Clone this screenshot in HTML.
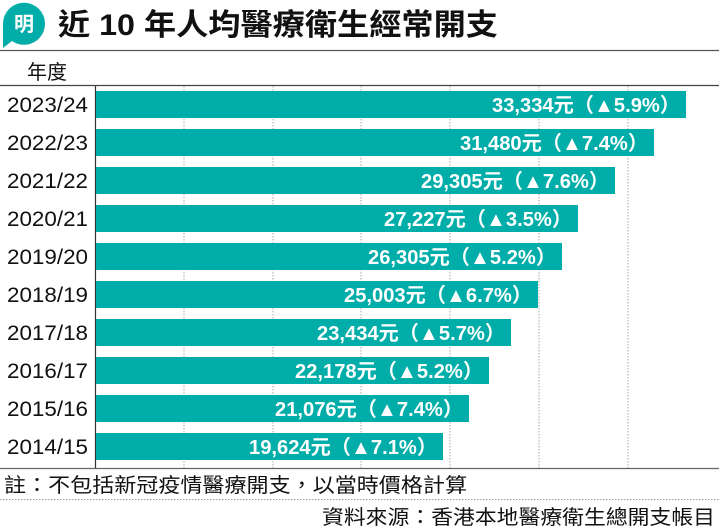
<!DOCTYPE html>
<html><head><meta charset="utf-8"><style>
html,body{margin:0;padding:0;background:#fff}
svg{display:block}
text{font-family:"Liberation Sans","Noto Sans CJK TC",sans-serif}
</style></head><body>
<svg width="719" height="528" xmlns="http://www.w3.org/2000/svg">
<rect width="719" height="528" fill="#fff"/>
<path d="M3,24 a21,21 0 1 1 9,17 l-9,7 z" fill="#00ADA8"/>
<text x="24" y="31" font-size="20" font-weight="bold" fill="#fff" text-anchor="middle" font-family="Noto Serif CJK SC, serif">明</text>
<text x="58" y="35" font-size="30" font-weight="bold" fill="#111" textLength="440" lengthAdjust="spacingAndGlyphs">近 10 年人均醫療衛生經常開支</text>
<line x1="0" y1="50.5" x2="719" y2="50.5" stroke="#555" stroke-width="1.2"/>
<text x="27" y="79" font-size="20" fill="#111">年度</text>
<line x1="0" y1="85.5" x2="719" y2="85.5" stroke="#444" stroke-width="1.2"/>
<g stroke="#aaa" stroke-width="1" stroke-dasharray="1.5,1.5">
<line x1="184" y1="86" x2="184" y2="468"/>
<line x1="273" y1="86" x2="273" y2="468"/>
<line x1="361" y1="86" x2="361" y2="468"/>
<line x1="450" y1="86" x2="450" y2="468"/>
<line x1="539" y1="86" x2="539" y2="468"/>
<line x1="628" y1="86" x2="628" y2="468"/>
</g>
<line x1="95.5" y1="86" x2="95.5" y2="468" stroke="#333" stroke-width="1.2"/>
<g fill="#00ADA8">
<rect x="96" y="91" width="590" height="27"/>
<rect x="96" y="129" width="558" height="27"/>
<rect x="96" y="167" width="519" height="27"/>
<rect x="96" y="205" width="482" height="27"/>
<rect x="96" y="243" width="466" height="27"/>
<rect x="96" y="281" width="442" height="27"/>
<rect x="96" y="319" width="415" height="27"/>
<rect x="96" y="357" width="393" height="27"/>
<rect x="96" y="395" width="373" height="27"/>
<rect x="96" y="433" width="347" height="27"/>
</g>
<g font-size="21" fill="#111">
<text x="7" y="112" textLength="81" lengthAdjust="spacingAndGlyphs">2023/24</text>
<text x="7" y="150" textLength="81" lengthAdjust="spacingAndGlyphs">2022/23</text>
<text x="7" y="188" textLength="81" lengthAdjust="spacingAndGlyphs">2021/22</text>
<text x="7" y="226" textLength="81" lengthAdjust="spacingAndGlyphs">2020/21</text>
<text x="7" y="264" textLength="81" lengthAdjust="spacingAndGlyphs">2019/20</text>
<text x="7" y="302" textLength="81" lengthAdjust="spacingAndGlyphs">2018/19</text>
<text x="7" y="340" textLength="81" lengthAdjust="spacingAndGlyphs">2017/18</text>
<text x="7" y="378" textLength="81" lengthAdjust="spacingAndGlyphs">2016/17</text>
<text x="7" y="416" textLength="81" lengthAdjust="spacingAndGlyphs">2015/16</text>
<text x="7" y="454" textLength="81" lengthAdjust="spacingAndGlyphs">2014/15</text>
</g>
<g font-size="20" font-weight="bold" fill="#fff">
<text x="492" y="112" textLength="188" lengthAdjust="spacingAndGlyphs">33,334元（▲5.9%）</text>
<text x="460" y="150" textLength="188" lengthAdjust="spacingAndGlyphs">31,480元（▲7.4%）</text>
<text x="421" y="188" textLength="188" lengthAdjust="spacingAndGlyphs">29,305元（▲7.6%）</text>
<text x="384" y="226" textLength="188" lengthAdjust="spacingAndGlyphs">27,227元（▲3.5%）</text>
<text x="368" y="264" textLength="188" lengthAdjust="spacingAndGlyphs">26,305元（▲5.2%）</text>
<text x="344" y="302" textLength="188" lengthAdjust="spacingAndGlyphs">25,003元（▲6.7%）</text>
<text x="317" y="340" textLength="188" lengthAdjust="spacingAndGlyphs">23,434元（▲5.7%）</text>
<text x="295" y="378" textLength="188" lengthAdjust="spacingAndGlyphs">22,178元（▲5.2%）</text>
<text x="275" y="416" textLength="188" lengthAdjust="spacingAndGlyphs">21,076元（▲7.4%）</text>
<text x="249" y="454" textLength="188" lengthAdjust="spacingAndGlyphs">19,624元（▲7.1%）</text>
</g>
<line x1="0" y1="468.5" x2="719" y2="468.5" stroke="#666" stroke-width="1.2"/>
<text x="4" y="492" font-size="20" fill="#111" textLength="463" lengthAdjust="spacingAndGlyphs">註：不包括新冠疫情醫療開支，以當時價格計算</text>
<line x1="0" y1="499.5" x2="719" y2="499.5" stroke="#999" stroke-width="1" stroke-dasharray="1.5,1.5"/>
<text x="322" y="524" font-size="20" fill="#111" textLength="393" lengthAdjust="spacingAndGlyphs">資料來源：香港本地醫療衛生總開支帳目</text>
</svg>
</body></html>
